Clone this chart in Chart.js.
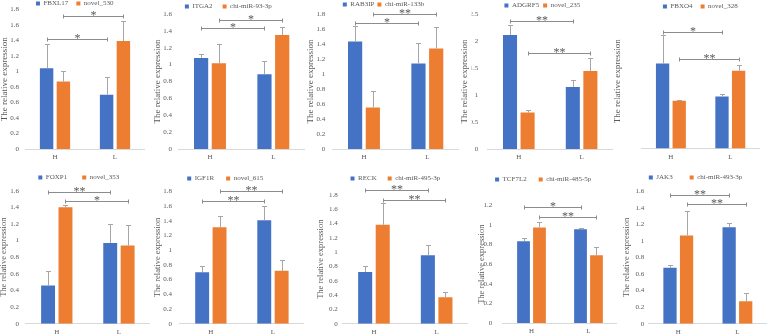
<!DOCTYPE html>
<html><head><meta charset="utf-8">
<script src="https://cdn.jsdelivr.net/npm/chart.js@4.4.1/dist/chart.umd.min.js"></script>
<style>
html,body{margin:0;padding:0;background:#fff;width:767px;height:336px;overflow:hidden;position:relative}
canvas{position:absolute}
</style></head><body>
<script>
// ---------- DATA ----------
const categories = ['H', 'L'];
const genes  = ['FBXL17','ITGA2','RAB3IP','ADGRF5','FBXO4','FOXP1','IGF1R','RECK','TCF7L2','JAK3'];
const mirnas = ['novel_530','chi-miR-93-3p','chi-miR-133b','novel_235','novel_328','novel_353','novel_615','chi-miR-495-3p','chi-miR-485-5p','chi-miR-493-3p'];
const geneValues = [[1.04,0.70],[1.08,0.885],[1.435,1.14],[2.11,1.15],[1.58,0.97],[0.46,0.97],[0.70,1.405],[0.72,0.955],[0.835,0.955],[0.675,1.165]];
const geneErrors = [[0.31,0.23],[0.04,0.16],[0.20,0.28],[0.19,0.13],[0.53,0.04],[0.18,0.225],[0.08,0.20],[0.09,0.145],[0.03,0.01],[0.035,0.05]];
const mirValues  = [[0.87,1.39],[1.015,1.35],[0.555,1.34],[0.675,1.445],[0.89,1.445],[1.40,0.94],[1.31,0.72],[1.38,0.37],[0.975,0.69],[1.065,0.27]];
const mirErrors  = [[0.14,0.26],[0.23,0.10],[0.22,0.29],[0.05,0.235],[0.02,0.11],[0.025,0.25],[0.15,0.14],[0.30,0.07],[0.055,0.085],[0.30,0.10]];
const geneSigLevel = [1.42,1.43,1.68,2.37,2.17,1.59,1.67,1.86,1.18,1.56];
const geneSigLabel = ['*','*','*','**','*','**','**','**','*','**'];
const mirSigLevel  = [1.72,1.53,1.80,1.77,1.655,1.48,1.81,1.73,1.08,1.45];
const mirSigLabel  = ['*','*','**','**','**','*','**','**','**','**'];
const yMaxTicks  = [1.8,1.6,1.8,2.5,2.5,1.6,1.8,1.8,1.2,1.6];
const yStepTicks = [0.2,0.2,0.2,0.5,0.5,0.2,0.2,0.2,0.2,0.2];
const yTitle = 'The relative expression';

// ---------- LAYOUT (page pixels) ----------
// panelX, plotLeft, plotRight (rel), plotTop, plotBottom (abs), legendY (abs), legendCenter (rel), legendPad, titleX (rel), tickRight (rel), titleSize
const panelLayout = [
  [0,   25.0, 145.0,   9.3, 149.0,   3, 74.7,  8,  5, 19.0, 9],
  [153, 25.3, 152.0,  14.0, 149.0,   6, 75.3, 10,  5, 19.0, 9],
  [306, 26.3, 153.0,  14.0, 149.0,   4, 77.5,  3,  5, 19.3, 9],
  [459, 28.4, 154.0,  14.0, 149.0,   5, 83.3,  4,  6, 19.3, 9],
  [612, 29.2, 148.0,  14.0, 149.0,   6, 88.3,  8,  6, 19.0, 9],
  [0,   25.7, 149.8, 190.7, 323.7, 177, 78.7, 15,  4, 19.0, 8.5],
  [153, 26.8, 151.0, 191.3, 323.7, 178, 72.2, 12,  5, 19.0, 8.5],
  [306, 36.6, 161.6, 194.7, 323.7, 178, 89.2, 11, 15, 31.7, 8.5],
  [459, 44.0, 158.0, 205.3, 323.7, 179, 84.2, 12, 23, 33.3, 8.5],
  [612, 36.7, 154.5, 191.3, 323.7, 177, 83.3, 17, 15, 32.3, 8.5]
];

const FONT = '"Liberation Serif", "Times New Roman", serif';
const TXT = '#595959';
const BLUE = '#4472C4', ORANGE = '#ED7D31';

const legendFix = {
  id: 'legendFix',
  beforeLayout(chart, args, opts) {
    const lg = chart.legend;
    if (lg && !lg._fixedH) {
      const f = lg.fit;
      lg.fit = function () { f.call(this); this.height = opts.h; };
      lg._fixedH = true;
    }
  }
};

const annot = {
  id: 'annot',
  afterDatasetsDraw(chart, args, opts) {
    const i = opts.idx;
    const {ctx} = chart;
    const y = chart.scales.y;
    const metas = [chart.getDatasetMeta(0), chart.getDatasetMeta(1)];
    const vals = [geneValues[i], mirValues[i]];
    const errs = [geneErrors[i], mirErrors[i]];
    ctx.save();
    ctx.strokeStyle = '#a6a6a6';
    ctx.lineWidth = 1;
    metas.forEach((m, d) => m.data.forEach((bar, c) => {
      const x = Math.round(bar.x) + 0.5;
      const y0 = y.getPixelForValue(vals[d][c]);
      const y1 = Math.round(y.getPixelForValue(vals[d][c] + errs[d][c])) + 0.5;
      ctx.beginPath();
      ctx.moveTo(x, y0); ctx.lineTo(x, y1);
      ctx.moveTo(x - 2.5, y1); ctx.lineTo(x + 2.5, y1);
      ctx.stroke();
    }));
    const sig = [[geneSigLevel[i], geneSigLabel[i]], [mirSigLevel[i], mirSigLabel[i]]];
    ctx.strokeStyle = '#8c8c8c';
    ctx.fillStyle = TXT;
    ctx.font = '12px ' + FONT;
    ctx.textAlign = 'center';
    ctx.textBaseline = 'alphabetic';
    sig.forEach(([lev, lab], d) => {
      const xa = Math.round(metas[d].data[0].x) + 0.5;
      const xb = Math.round(metas[d].data[1].x) + 0.5;
      const yy = Math.round(y.getPixelForValue(lev)) + 0.5;
      ctx.beginPath();
      ctx.moveTo(xa, yy); ctx.lineTo(xb, yy);
      ctx.moveTo(xa, yy - 2); ctx.lineTo(xa, yy + 2);
      ctx.moveTo(xb, yy - 2); ctx.lineTo(xb, yy + 2);
      ctx.stroke();
      ctx.fillText(lab, (xa + xb) / 2, yy + 2);
    });
    ctx.restore();
  }
};

panelLayout.forEach((L, i) => {
  const [px, pl, pr, T, B, ly, lc, lp, tx, tr, ts] = L;
  const E = 2 * lc - pr;                 // layout box left edge (rel) so the legend centres at lc
  const cl = Math.max(0, Math.floor(Math.min(px - 2, px + E)));
  const padLeft = px + E - cl;
  const cw = Math.round(px + pr - cl);
  const ct = Math.round(ly - lp - 3.5);
  const ch = Math.round(B + 14 - ct);
  const legendH = T - ct;
  const xAxisH = (ct + ch) - B;
  const yW = pl - E;
  const lh = ts * 1.2;
  const titlePad = tx - E - lh / 2;

  const cv = document.createElement('canvas');
  cv.width = cw; cv.height = ch;
  cv.style.left = cl + 'px'; cv.style.top = ct + 'px';
  cv.style.width = cw + 'px'; cv.style.height = ch + 'px';
  document.body.appendChild(cv);

  new Chart(cv.getContext('2d'), {
    type: 'bar',
    data: {
      labels: categories,
      datasets: [
        { label: genes[i], data: geneValues[i], backgroundColor: BLUE, borderWidth: 0, categoryPercentage: 0.56, barPercentage: 0.8 },
        { label: mirnas[i], data: mirValues[i], backgroundColor: ORANGE, borderWidth: 0, categoryPercentage: 0.56, barPercentage: 0.8 }
      ]
    },
    options: {
      responsive: false,
      animation: false,
      devicePixelRatio: 1,
      events: [],
      layout: { padding: { left: padLeft, right: 0, top: 0, bottom: 0 } },
      plugins: {
        tooltip: { enabled: false },
        legend: {
          display: true, position: 'top', align: 'center',
          labels: { boxWidth: 4, boxHeight: 4, padding: lp, color: TXT, font: { family: FONT, size: 7 } }
        },
        legendFix: { h: legendH },
        annot: { idx: i }
      },
      scales: {
        x: {
          grid: { display: false, drawTicks: false, tickLength: 0 },
          border: { display: true, color: '#d9d9d9', width: 1 },
          ticks: { color: TXT, font: { family: FONT, size: 7 }, padding: 4.3 },
          afterFit: s => { s.height = xAxisH; }
        },
        y: {
          min: 0, max: yMaxTicks[i],
          grid: { display: false, drawTicks: false, tickLength: 0 },
          border: { display: false },
          ticks: {
            stepSize: yStepTicks[i], color: TXT, font: { family: FONT, size: 7 }, padding: pl - tr,
            callback: v => String(+Number(v).toFixed(2))
          },
          title: { display: true, text: yTitle, color: TXT, font: { family: FONT, size: ts }, padding: { top: titlePad, bottom: 0 } },
          afterFit: s => { s.width = yW; }
        }
      }
    },
    plugins: [legendFix, annot]
  });
});
</script>
</body></html>
